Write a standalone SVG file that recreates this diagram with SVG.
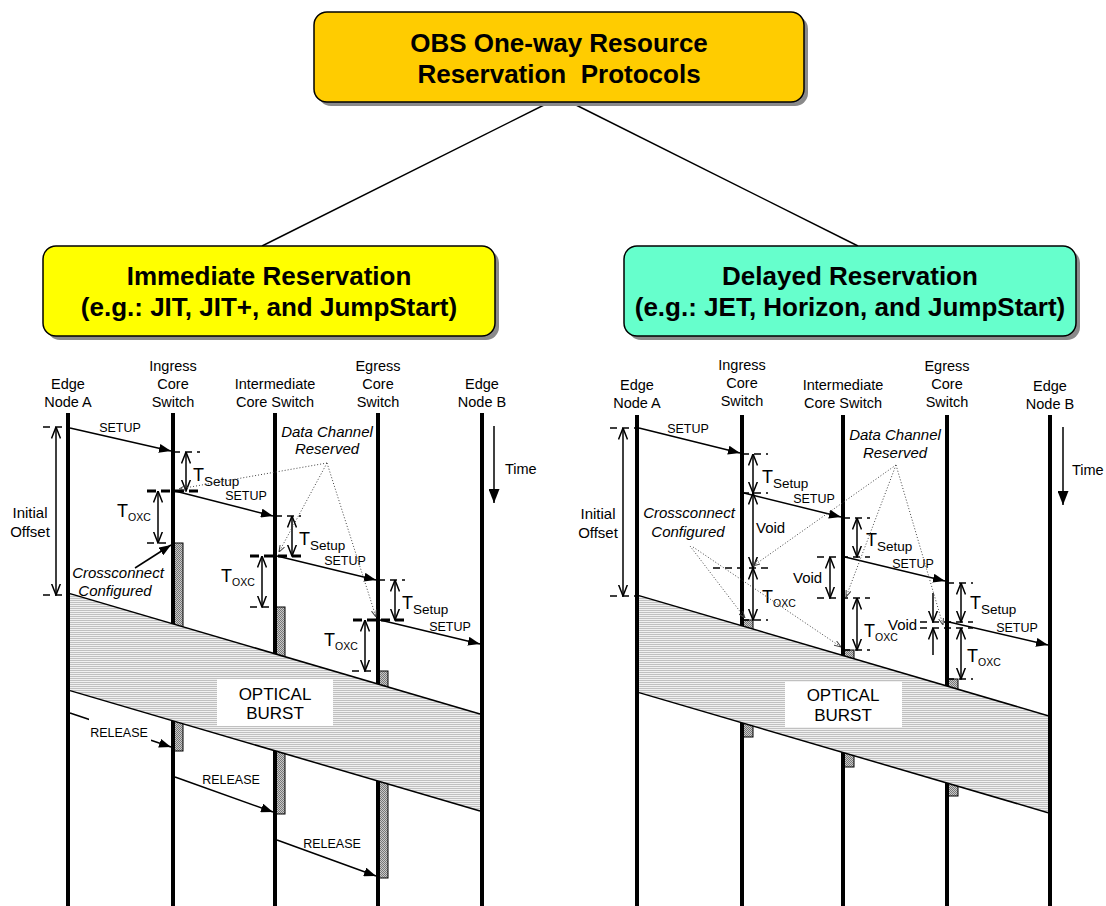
<svg xmlns="http://www.w3.org/2000/svg" width="1106" height="906" viewBox="0 0 1106 906">
  <defs>
    <style>
      text { font-family: "Liberation Sans", Arial, sans-serif; fill: #000; }
      .title { font-size: 26px; font-weight: bold; text-anchor: middle; }
      .lane { stroke: #000; stroke-width: 4; }
      .lbl { font-size: 14.5px; text-anchor: middle; }
      .it { font-size: 15px; font-style: italic; text-anchor: middle; }
      .mlbl { font-size: 12.5px; text-anchor: middle; }
      .msg { stroke: #000; stroke-width: 1.5; fill: none; marker-end: url(#fa); }
      .dim { stroke: #000; stroke-width: 1.5; marker-start: url(#ov); marker-end: url(#ov); }
      .half { stroke: #000; stroke-width: 1.5; marker-end: url(#ov); }
      .tick { stroke: #000; stroke-width: 1.5; stroke-dasharray: 7 5; }
      .tick2 { stroke: #000; stroke-width: 3; stroke-dasharray: 9 5; }
      .dot { stroke: #444; stroke-width: 1; stroke-dasharray: 1 2; fill: none; marker-end: url(#dv); }
      .tv { font-size: 18px; }
      .ss { font-size: 13.5px; }
      .so { font-size: 10.5px; }
      .void { font-size: 15px; }
      .bar { fill: url(#stip); stroke: #000; stroke-width: 1; }
      .band { fill: url(#hatch); }
      .edge { stroke: #000; stroke-width: 1.5; }
      .burst { font-size: 17px; text-anchor: middle; }
      .box { stroke: #000; stroke-width: 1.5; }
      .shadow { fill: #8a8a8a; }
      .conn { stroke: #000; stroke-width: 1.5; fill: none; }
    </style>
    <marker id="fa" viewBox="0 0 12 9" refX="12" refY="4.5" markerWidth="12" markerHeight="9" markerUnits="userSpaceOnUse" orient="auto">
      <path d="M0,0 L12,4.5 L0,9 z" fill="#000"/>
    </marker>
    <marker id="ta" viewBox="0 0 14 11" refX="14" refY="5.5" markerWidth="14" markerHeight="11" markerUnits="userSpaceOnUse" orient="auto">
      <path d="M0,0 L14,5.5 L0,11 z" fill="#000"/>
    </marker>
    <marker id="ov" viewBox="0 0 12 10" refX="11.5" refY="5" markerWidth="12" markerHeight="10" markerUnits="userSpaceOnUse" orient="auto-start-reverse">
      <path d="M0,0.5 L11.5,5 L0,9.5" fill="none" stroke="#000" stroke-width="1.5"/>
    </marker>
    <marker id="dv" viewBox="0 0 7 6" refX="7" refY="3" markerWidth="7" markerHeight="6" markerUnits="userSpaceOnUse" orient="auto">
      <path d="M0,0.5 L7,3 L0,5.5" fill="none" stroke="#444" stroke-width="1"/>
    </marker>
    <pattern id="hatch" width="4" height="2" patternUnits="userSpaceOnUse">
      <rect width="4" height="2" fill="#f0f0f0"/>
      <rect width="4" height="1" fill="#c0c0c0"/>
    </pattern>
    <pattern id="stip" width="2" height="2" patternUnits="userSpaceOnUse">
      <rect width="2" height="2" fill="#c8c8c8"/>
      <rect width="1" height="1" fill="#777"/>
      <rect x="1" y="1" width="1" height="1" fill="#777"/>
    </pattern>
  </defs>

  <rect width="1106" height="906" fill="#fff"/>

  <!-- classification tree -->
  <g id="connectors">
    <line class="conn" x1="548" y1="103" x2="262" y2="246"/>
    <line class="conn" x1="572" y1="103" x2="858" y2="246"/>
  </g>

  <g id="obs-root">
    <rect class="shadow" x="318" y="16" width="490" height="90" rx="13"/>
    <rect class="box" x="314" y="12" width="490" height="90" rx="13" fill="#ffcc00"/>
    <text class="title" x="559" y="52">OBS One-way Resource</text>
    <text class="title" x="559" y="83" xml:space="preserve">Reservation  Protocols</text>
  </g>

  <g id="immediate">
    <rect class="shadow" x="47" y="250" width="452" height="90" rx="13"/>
    <rect class="box" x="43" y="246" width="452" height="90" rx="13" fill="#ffff00"/>
    <text class="title" x="269" y="285">Immediate Reservation</text>
    <text class="title" x="269" y="316">(e.g.: JIT, JIT+, and JumpStart)</text>
  </g>

  <g id="delayed">
    <rect class="shadow" x="628" y="250" width="452" height="90" rx="13"/>
    <rect class="box" x="624" y="246" width="452" height="90" rx="13" fill="#66ffcc"/>
    <text class="title" x="850" y="285">Delayed Reservation</text>
    <text class="title" x="850" y="316">(e.g.: JET, Horizon, and JumpStart)</text>
  </g>

  <!-- immediate reservation timing -->
  <g id="immediate-seq">
    <text class="lbl" x="68" y="389">Edge</text>
    <text class="lbl" x="68" y="407">Node A</text>
    <text class="lbl" x="173" y="371">Ingress</text>
    <text class="lbl" x="173" y="389">Core</text>
    <text class="lbl" x="173" y="407">Switch</text>
    <text class="lbl" x="275" y="389">Intermediate</text>
    <text class="lbl" x="275" y="407">Core Switch</text>
    <text class="lbl" x="378" y="371">Egress</text>
    <text class="lbl" x="378" y="389">Core</text>
    <text class="lbl" x="378" y="407">Switch</text>
    <text class="lbl" x="482" y="389">Edge</text>
    <text class="lbl" x="482" y="407">Node B</text>

    <line x1="494" y1="426" x2="494" y2="503" stroke="#000" stroke-width="1.5" marker-end="url(#ta)"/>
    <text class="lbl" x="505" y="474" style="text-anchor:start">Time</text>

    <!-- reservation bars -->
    <rect class="bar" x="173" y="543" width="10" height="208"/>
    <rect class="bar" x="275" y="607" width="10" height="207"/>
    <rect class="bar" x="378" y="671" width="10" height="207"/>

    <!-- lanes -->
    <line class="lane" x1="68" y1="413" x2="68" y2="906"/>
    <line class="lane" x1="173" y1="413" x2="173" y2="906"/>
    <line class="lane" x1="275" y1="413" x2="275" y2="906"/>
    <line class="lane" x1="378" y1="413" x2="378" y2="906"/>
    <line class="lane" x1="482" y1="413" x2="482" y2="906"/>

    <!-- burst -->
    <polygon class="band" points="70,593.6 480,714 480,811 70,690.6"/>
    <line class="edge" x1="70" y1="593.6" x2="480" y2="714"/>
    <line class="edge" x1="70" y1="690.6" x2="480" y2="811"/>
    <rect x="217" y="679" width="116" height="47" fill="#fff"/>
    <text class="burst" x="275" y="700">OPTICAL</text>
    <text class="burst" x="275" y="719">BURST</text>

    <!-- initial offset -->
    <line class="tick" x1="43" y1="427" x2="68" y2="427"/>
    <line class="tick" x1="43" y1="595" x2="68" y2="595"/>
    <line class="dim" x1="56" y1="427" x2="56" y2="595"/>
    <text class="lbl" x="30" y="518" style="font-size:15px">Initial</text>
    <text class="lbl" x="30" y="537" style="font-size:15px">Offset</text>

    <!-- setup messages -->
    <line class="msg" x1="70" y1="428" x2="171" y2="451"/>
    <text class="mlbl" x="120" y="432">SETUP</text>
    <line class="msg" x1="175" y1="491" x2="273" y2="516"/>
    <text class="mlbl" x="246" y="500">SETUP</text>
    <line class="msg" x1="277" y1="556" x2="376" y2="580"/>
    <text class="mlbl" x="345" y="565">SETUP</text>
    <line class="msg" x1="380" y1="620" x2="480" y2="644"/>
    <text class="mlbl" x="450" y="631">SETUP</text>

    <!-- ingress timing -->
    <line class="tick" x1="173" y1="452" x2="200" y2="452"/>
    <line class="dim" x1="186" y1="452" x2="186" y2="491"/>
    <line class="tick2" x1="147" y1="491" x2="201" y2="491"/>
    <text class="tv" x="193" y="481">T<tspan class="ss" dy="5">Setup</tspan></text>
    <line class="dim" x1="158" y1="491" x2="158" y2="543"/>
    <line class="tick" x1="147" y1="543" x2="173" y2="543"/>
    <text class="tv" x="117" y="517">T<tspan class="so" dy="4">OXC</tspan></text>

    <!-- intermediate timing -->
    <line class="tick" x1="275" y1="516" x2="301" y2="516"/>
    <line class="dim" x1="292" y1="516" x2="292" y2="556"/>
    <line class="tick2" x1="250" y1="556" x2="301" y2="556"/>
    <text class="tv" x="299" y="545">T<tspan class="ss" dy="5">Setup</tspan></text>
    <line class="dim" x1="262" y1="556" x2="262" y2="607"/>
    <line class="tick" x1="250" y1="607" x2="275" y2="607"/>
    <text class="tv" x="221" y="582">T<tspan class="so" dy="4">OXC</tspan></text>

    <!-- egress timing -->
    <line class="tick" x1="378" y1="580" x2="405" y2="580"/>
    <line class="dim" x1="395" y1="580" x2="395" y2="620"/>
    <line class="tick2" x1="353" y1="620" x2="405" y2="620"/>
    <text class="tv" x="402" y="609">T<tspan class="ss" dy="5">Setup</tspan></text>
    <line class="dim" x1="365" y1="620" x2="365" y2="671"/>
    <line class="tick" x1="352" y1="671" x2="378" y2="671"/>
    <text class="tv" x="324" y="646">T<tspan class="so" dy="4">OXC</tspan></text>

    <!-- annotations -->
    <text class="it" x="118" y="578">Crossconnect</text>
    <text class="it" x="115" y="596">Configured</text>
    <line class="msg" x1="135" y1="568" x2="171" y2="545"/>

    <text class="it" x="327" y="437">Data Channel</text>
    <text class="it" x="327" y="454">Reserved</text>
    <line class="dot" x1="327" y1="463" x2="179" y2="489"/>
    <line class="dot" x1="327" y1="463" x2="279" y2="552"/>
    <line class="dot" x1="327" y1="463" x2="376" y2="617"/>

    <!-- release messages -->
    <line class="msg" x1="70" y1="713" x2="171" y2="747"/>
    <rect x="89" y="718" width="62" height="24" fill="#fff"/>
    <text class="mlbl" x="119" y="737">RELEASE</text>
    <line class="msg" x1="175" y1="777" x2="273" y2="812"/>
    <text class="mlbl" x="231" y="784">RELEASE</text>
    <line class="msg" x1="277" y1="840" x2="376" y2="876"/>
    <text class="mlbl" x="332" y="848">RELEASE</text>
  </g>

  <!-- delayed reservation timing -->
  <g id="delayed-seq">
    <text class="lbl" x="637" y="390">Edge</text>
    <text class="lbl" x="637" y="408">Node A</text>
    <text class="lbl" x="742" y="370">Ingress</text>
    <text class="lbl" x="742" y="388">Core</text>
    <text class="lbl" x="742" y="406">Switch</text>
    <text class="lbl" x="843" y="390">Intermediate</text>
    <text class="lbl" x="843" y="408">Core Switch</text>
    <text class="lbl" x="947" y="371">Egress</text>
    <text class="lbl" x="947" y="389">Core</text>
    <text class="lbl" x="947" y="407">Switch</text>
    <text class="lbl" x="1050" y="391">Edge</text>
    <text class="lbl" x="1050" y="409">Node B</text>

    <line x1="1063" y1="427" x2="1063" y2="505" stroke="#000" stroke-width="1.5" marker-end="url(#ta)"/>
    <text class="lbl" x="1072" y="475" style="text-anchor:start">Time</text>

    <!-- reservation bars -->
    <rect class="bar" x="742" y="620" width="11" height="117"/>
    <rect class="bar" x="843" y="650" width="11" height="117"/>
    <rect class="bar" x="947" y="679" width="11" height="117"/>

    <!-- lanes -->
    <line class="lane" x1="637" y1="415" x2="637" y2="906"/>
    <line class="lane" x1="742" y1="415" x2="742" y2="906"/>
    <line class="lane" x1="843" y1="415" x2="843" y2="906"/>
    <line class="lane" x1="947" y1="415" x2="947" y2="906"/>
    <line class="lane" x1="1050" y1="415" x2="1050" y2="906"/>

    <!-- burst -->
    <polygon class="band" points="639,595.6 1048,715.7 1048,812.7 639,692.6"/>
    <line class="edge" x1="639" y1="595.6" x2="1048" y2="715.7"/>
    <line class="edge" x1="639" y1="692.6" x2="1048" y2="812.7"/>
    <rect x="785" y="682" width="117" height="45" fill="#fff"/>
    <text class="burst" x="843" y="701">OPTICAL</text>
    <text class="burst" x="843" y="721">BURST</text>

    <!-- initial offset -->
    <line class="tick" x1="610" y1="428" x2="637" y2="428"/>
    <line class="tick" x1="610" y1="596" x2="637" y2="596"/>
    <line class="dim" x1="623" y1="428" x2="623" y2="596"/>
    <text class="lbl" x="598" y="519" style="font-size:15px">Initial</text>
    <text class="lbl" x="598" y="538" style="font-size:15px">Offset</text>

    <!-- setup messages -->
    <line class="msg" x1="639" y1="428" x2="740" y2="453"/>
    <text class="mlbl" x="688" y="433">SETUP</text>
    <line class="msg" x1="744" y1="493" x2="841" y2="517"/>
    <text class="mlbl" x="814" y="503">SETUP</text>
    <line class="msg" x1="845" y1="557" x2="945" y2="581"/>
    <text class="mlbl" x="913" y="568">SETUP</text>
    <line class="msg" x1="949" y1="622" x2="1048" y2="645"/>
    <text class="mlbl" x="1017" y="632">SETUP</text>

    <!-- ingress timing -->
    <line class="tick" x1="742" y1="454" x2="768" y2="454"/>
    <line class="tick" x1="742" y1="493" x2="768" y2="493"/>
    <line class="tick" x1="713" y1="568" x2="768" y2="568"/>
    <line class="tick" x1="742" y1="620" x2="768" y2="620"/>
    <line class="dim" x1="753" y1="454" x2="753" y2="493"/>
    <line class="dim" x1="753" y1="493" x2="753" y2="568"/>
    <line class="dim" x1="753" y1="568" x2="753" y2="620"/>
    <text class="tv" x="762" y="483">T<tspan class="ss" dy="5">Setup</tspan></text>
    <text class="void" x="756" y="533">Void</text>
    <text class="tv" x="762" y="603">T<tspan class="so" dy="4">OXC</tspan></text>

    <!-- intermediate timing -->
    <line class="tick" x1="843" y1="518" x2="870" y2="518"/>
    <line class="tick" x1="817" y1="557" x2="870" y2="557"/>
    <line class="tick" x1="817" y1="598" x2="870" y2="598"/>
    <line class="tick" x1="843" y1="650" x2="870" y2="650"/>
    <line class="dim" x1="857" y1="518" x2="857" y2="557"/>
    <line class="dim" x1="830" y1="557" x2="830" y2="598"/>
    <line class="dim" x1="857" y1="598" x2="857" y2="650"/>
    <text class="tv" x="866" y="546">T<tspan class="ss" dy="5">Setup</tspan></text>
    <text class="void" x="793" y="583">Void</text>
    <text class="tv" x="864" y="637">T<tspan class="so" dy="4">OXC</tspan></text>

    <!-- egress timing -->
    <line class="tick" x1="947" y1="583" x2="973" y2="583"/>
    <line class="tick" x1="920" y1="622" x2="973" y2="622"/>
    <line class="tick" x1="920" y1="628" x2="973" y2="628"/>
    <line class="tick" x1="947" y1="679" x2="973" y2="679"/>
    <line class="dim" x1="961" y1="583" x2="961" y2="622"/>
    <line class="half" x1="933" y1="593" x2="933" y2="622"/>
    <line class="half" x1="933" y1="655" x2="933" y2="628"/>
    <line class="dim" x1="961" y1="628" x2="961" y2="679"/>
    <text class="tv" x="970" y="609">T<tspan class="ss" dy="5">Setup</tspan></text>
    <text class="void" x="888" y="630">Void</text>
    <text class="tv" x="967" y="662">T<tspan class="so" dy="4">OXC</tspan></text>

    <!-- annotations -->
    <text class="it" x="689" y="518">Crossconnect</text>
    <text class="it" x="688" y="537">Configured</text>
    <line class="dot" x1="690" y1="546" x2="745" y2="618"/>
    <line class="dot" x1="693" y1="547" x2="841" y2="647"/>

    <text class="it" x="895" y="440">Data Channel</text>
    <text class="it" x="895" y="458">Reserved</text>
    <line class="dot" x1="896" y1="465" x2="753" y2="566"/>
    <line class="dot" x1="896" y1="465" x2="846" y2="597"/>
    <line class="dot" x1="896" y1="465" x2="943" y2="625"/>
  </g>
</svg>
